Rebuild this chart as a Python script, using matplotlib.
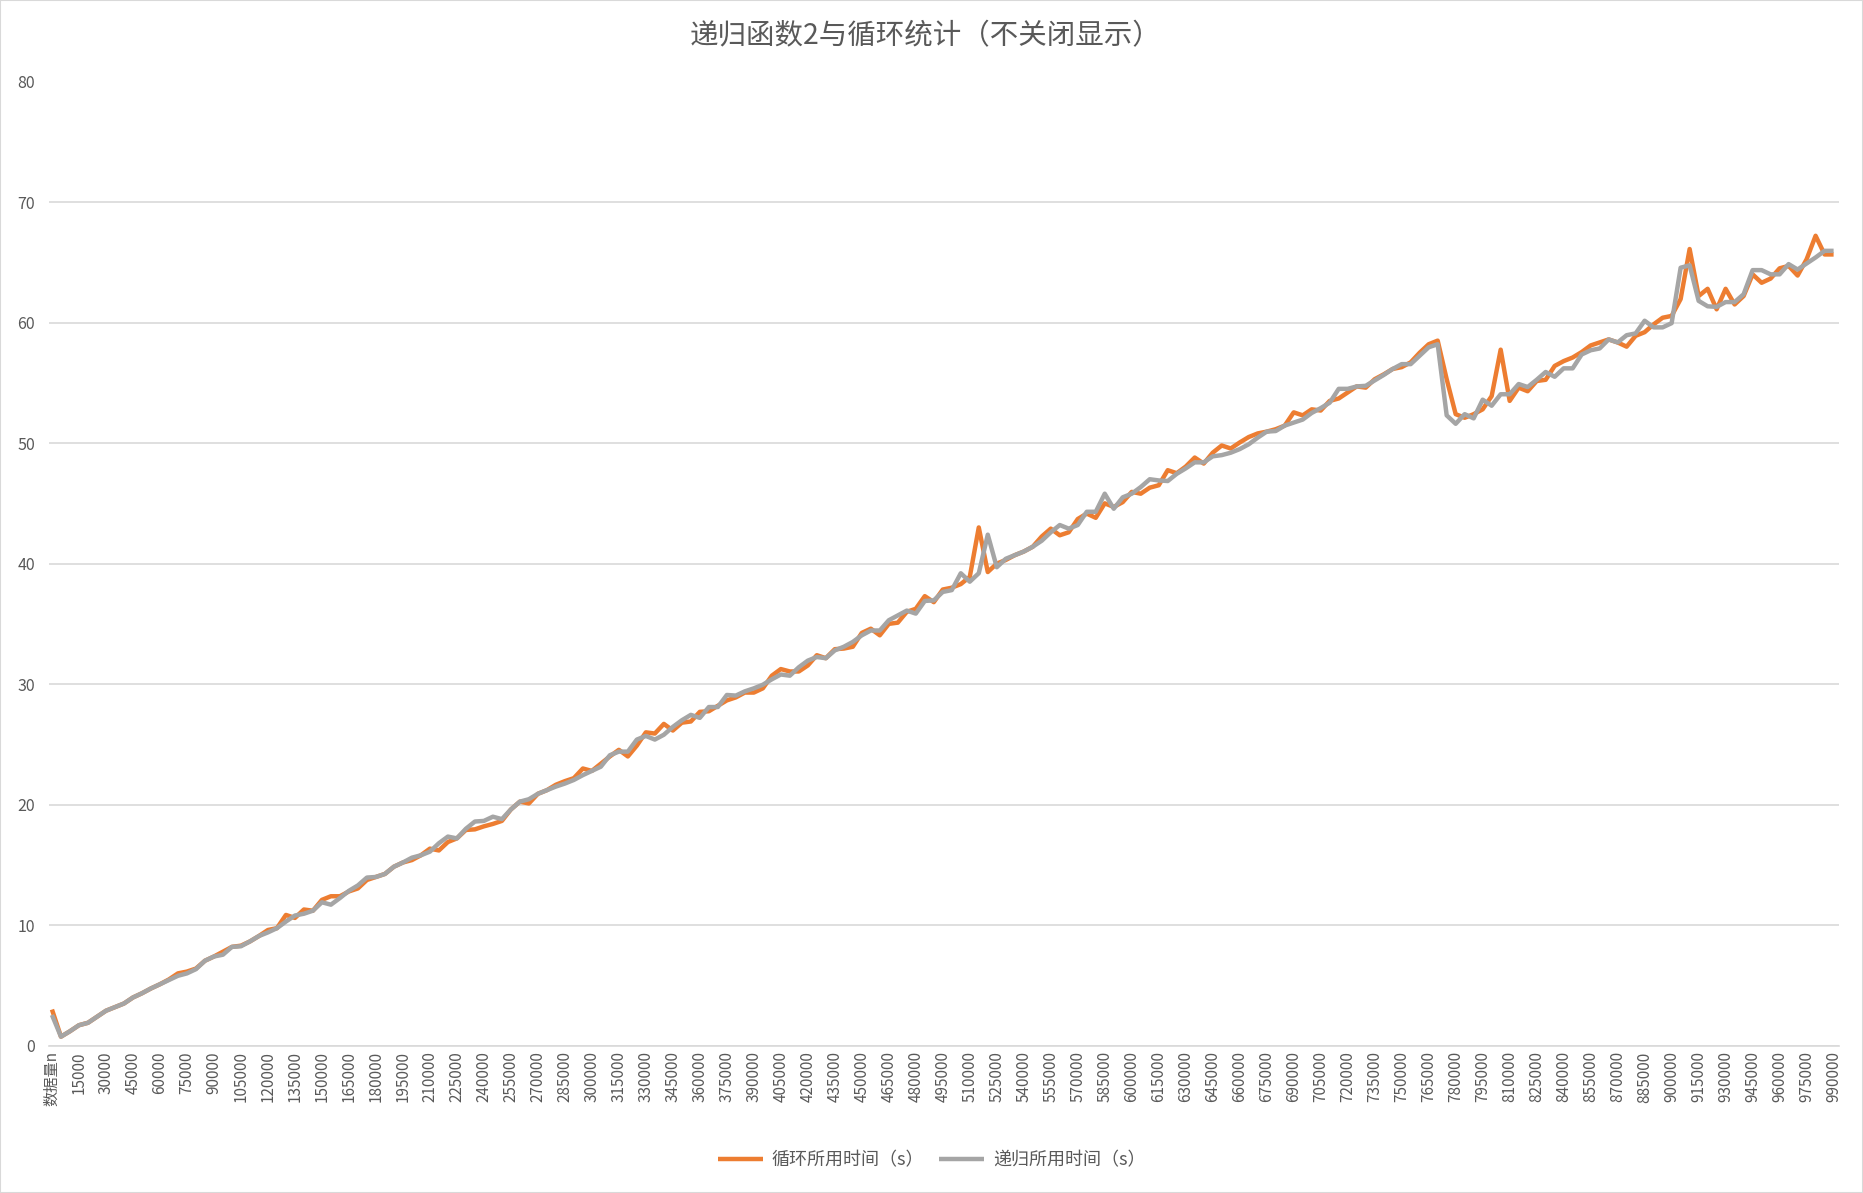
import matplotlib
matplotlib.use("Agg")
import matplotlib.pyplot as plt
from matplotlib.patches import Rectangle

plt.rcParams['font.family'] = ['Noto Sans CJK SC', 'DejaVu Sans']

# -----------------------------
# 数据
# -----------------------------
categories = ["数据量n"] + [str(n) for n in range(5000, 995000, 5000)]

loop_time = [
    3.0, 0.75, 1.2, 1.7, 1.9, 2.4, 2.9, 3.2, 3.5, 4.0,
    4.35, 4.75, 5.1, 5.5, 6.0, 6.15, 6.4, 7.05, 7.4, 7.8,
    8.2, 8.3, 8.65, 9.1, 9.6, 9.75, 10.85, 10.6, 11.3, 11.2,
    12.1, 12.4, 12.4, 12.8, 13.05, 13.75, 14.0, 14.25, 14.85, 15.2,
    15.4, 15.8, 16.35, 16.2, 16.9, 17.2, 17.9, 17.95, 18.2, 18.4,
    18.65, 19.6, 20.25, 20.1, 20.9, 21.2, 21.65, 21.95, 22.2, 23.0,
    22.8, 23.4, 24.0, 24.55, 24.0, 24.9, 26.0, 25.9, 26.7, 26.15,
    26.8, 26.9, 27.7, 27.75, 28.2, 28.65, 28.9, 29.3, 29.3, 29.65,
    30.7, 31.25, 31.05, 31.05, 31.55, 32.4, 32.15, 32.9, 32.95, 33.1,
    34.25, 34.6, 34.05, 35.0, 35.1, 36.0, 36.25, 37.3, 36.8, 37.85,
    38.0, 38.3, 38.9, 43.0, 39.3, 40.0, 40.3, 40.7, 41.0, 41.4,
    42.25, 42.9, 42.35, 42.6, 43.7, 44.15, 43.8, 45.0, 44.7, 45.1,
    45.95, 45.8, 46.3, 46.5, 47.75, 47.5, 48.05, 48.8, 48.3, 49.2,
    49.8, 49.55, 50.05, 50.5, 50.8, 50.95, 51.15, 51.45, 52.55, 52.3,
    52.8, 52.7, 53.5, 53.7, 54.2, 54.7, 54.6, 55.3, 55.7, 56.15,
    56.3, 56.7, 57.5, 58.2, 58.5, 55.3, 52.4, 52.1, 52.4, 52.8,
    53.9, 57.75, 53.5, 54.6, 54.3, 55.15, 55.25, 56.4, 56.8, 57.1,
    57.55, 58.1, 58.35, 58.6, 58.35, 58.0, 58.9, 59.2, 59.85, 60.4,
    60.55, 61.95, 66.1, 62.2, 62.8, 61.1, 62.8, 61.5, 62.2, 64.0,
    63.3, 63.65, 64.5, 64.7, 63.9, 65.25, 67.2, 65.65, 65.65,
]

recursion_time = [
    2.55, 0.75, 1.2, 1.7, 1.9, 2.4, 2.9, 3.2, 3.5, 4.0,
    4.35, 4.75, 5.1, 5.45, 5.8, 6.0, 6.35, 7.05, 7.4, 7.55,
    8.2, 8.25, 8.65, 9.1, 9.4, 9.75, 10.3, 10.8, 10.95, 11.2,
    11.9, 11.7, 12.25, 12.85, 13.3, 13.95, 14.0, 14.25, 14.85, 15.2,
    15.6, 15.8, 16.1, 16.8, 17.35, 17.2, 18.0, 18.6, 18.65, 19.0,
    18.8, 19.6, 20.25, 20.45, 20.9, 21.2, 21.5, 21.75, 22.05, 22.45,
    22.8, 23.15, 24.1, 24.4, 24.4, 25.4, 25.7, 25.4, 25.8, 26.45,
    27.0, 27.45, 27.2, 28.1, 28.1, 29.1, 29.05, 29.4, 29.65, 29.95,
    30.4, 30.8, 30.7, 31.4, 31.95, 32.25, 32.15, 32.8, 33.1, 33.5,
    34.05, 34.45, 34.45, 35.3, 35.7, 36.1, 35.85, 36.9, 36.95, 37.65,
    37.8, 39.2, 38.5, 39.2, 42.4, 39.7, 40.4, 40.7, 41.0, 41.4,
    41.9, 42.6, 43.2, 42.9, 43.2, 44.3, 44.3, 45.8, 44.55, 45.5,
    45.8, 46.35, 47.0, 46.9, 46.85, 47.45, 47.9, 48.4, 48.4, 48.9,
    49.0, 49.2, 49.5, 49.9, 50.45, 50.95, 51.0, 51.45, 51.7, 51.95,
    52.5, 52.9, 53.35, 54.5, 54.5, 54.7, 54.75, 55.2, 55.65, 56.15,
    56.55, 56.55, 57.25, 57.95, 58.2, 52.3, 51.6, 52.4, 52.05, 53.6,
    53.1, 54.05, 54.05, 54.9, 54.65, 55.25, 55.9, 55.5, 56.2, 56.2,
    57.35, 57.7, 57.85, 58.6, 58.35, 58.95, 59.1, 60.15, 59.6, 59.6,
    59.95, 64.55, 64.75, 61.8, 61.35, 61.3, 61.7, 61.7, 62.35, 64.35,
    64.35, 64.0, 64.0, 64.85, 64.4, 64.9, 65.4, 65.95, 65.95,
]

y_ticks = [0, 10, 20, 30, 40, 50, 60, 70, 80]

ORANGE = "#ED7D31"
GRAY = "#A5A5A5"
TEXT = "#595959"
GRID = "#D9D9D9"

# -----------------------------
# Plot
# -----------------------------
fig = plt.figure(figsize=(18.63, 11.93), dpi=100)
ax = fig.add_axes([49 / 1863, 147.3 / 1193, 1790 / 1863, 964.2 / 1193])

x = list(range(len(categories)))
ax.plot(x, loop_time, color=ORANGE, lw=3.2, label="循环所用时间（s）",
        solid_joinstyle="round", solid_capstyle="butt")
ax.plot(x, recursion_time, color=GRAY, lw=3.2, label="递归所用时间（s）",
        solid_joinstyle="round", solid_capstyle="butt")

ax.set_xlim(-0.33, 198.6)
ax.set_ylim(0, 80)
ax.set_yticks(y_ticks)
ax.tick_params(axis="y", length=0, pad=10, labelsize=11.5, labelcolor=TEXT)
ax.yaxis.grid(True, color=GRID, lw=1.2)
ax.set_axisbelow(True)

ax.set_xticks(x[::3])
ax.set_xticklabels(categories[::3], rotation=90, fontsize=11, color=TEXT)
ax.tick_params(axis="x", length=0, pad=4)

for side in ["top", "right", "left"]:
    ax.spines[side].set_visible(False)
ax.spines["bottom"].set_color(GRID)
ax.spines["bottom"].set_linewidth(1.2)

fig.text(0.497, 1 - 36 / 1193, "递归函数2与循环统计（不关闭显示）",
         ha="center", va="center", fontsize=20.5, color=TEXT)

fig.legend(loc="center", bbox_to_anchor=(0.5, 33 / 1193), ncol=2,
           frameon=False, fontsize=13, labelcolor=TEXT,
           handlelength=2.5, columnspacing=0.8, handletextpad=0.5)

fig.patches.append(Rectangle((0, 0), 1, 1, transform=fig.transFigure,
                             fill=False, edgecolor=GRID, lw=1.5))

fig.savefig("out.png", dpi=100)
